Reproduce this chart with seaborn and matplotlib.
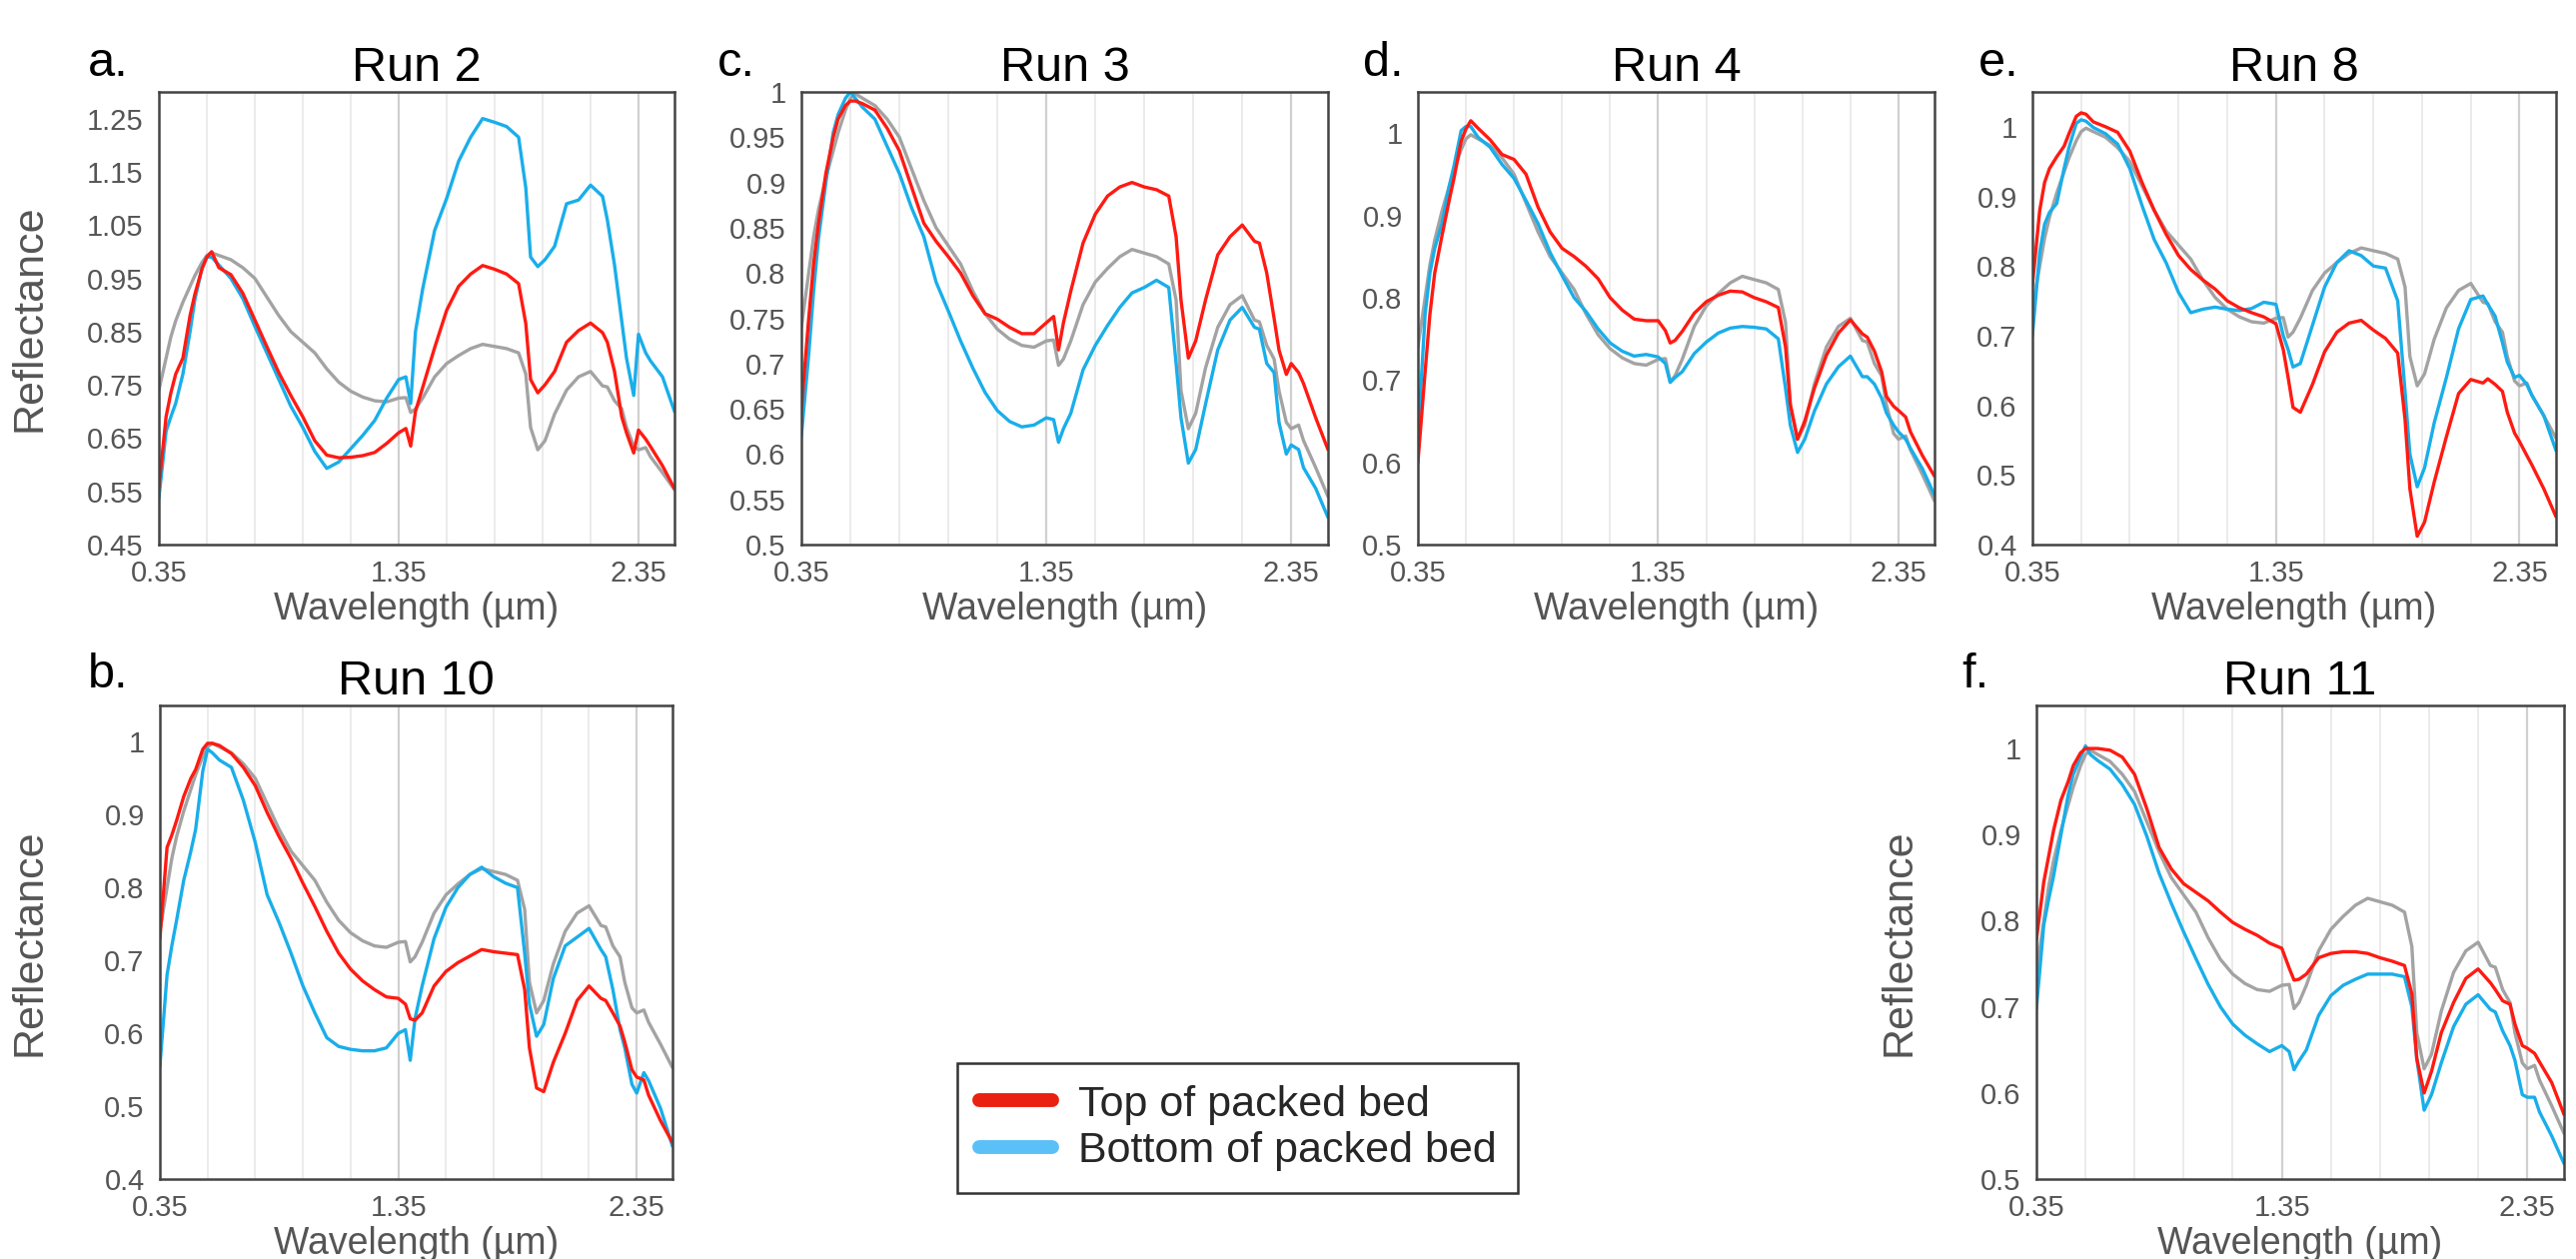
import numpy as np
import pandas as pd
import seaborn as sns
import matplotlib.pyplot as plt
from matplotlib.lines import Line2D

sns.set_theme(style="white")
plt.rcParams['font.family'] = ['Liberation Sans', 'DejaVu Sans']

# ---------------- data ----------------
wavelength = [0.35, 0.38, 0.40, 0.42, 0.45, 0.48, 0.50, 0.53, 0.55, 0.57, 0.60, 0.65, 0.70, 0.75,
              0.80, 0.85, 0.90, 0.95, 1.00, 1.05, 1.10, 1.15, 1.20, 1.25, 1.30, 1.35, 1.38, 1.40,
              1.42, 1.45, 1.50, 1.55, 1.60, 1.65, 1.70, 1.75, 1.80, 1.85, 1.88, 1.90, 1.93, 1.96,
              2.00, 2.05, 2.10, 2.15, 2.20, 2.22, 2.25, 2.28, 2.30, 2.33, 2.35, 2.38, 2.40, 2.45, 2.50]

reference_gray = [0.74, 0.80, 0.84, 0.87, 0.905, 0.935, 0.955, 0.98, 0.993, 0.998, 0.993, 0.985, 0.97, 0.95,
                  0.915, 0.88, 0.85, 0.83, 0.81, 0.78, 0.755, 0.738, 0.727, 0.72, 0.718, 0.725, 0.726, 0.698,
                  0.705, 0.725, 0.765, 0.79, 0.805, 0.818, 0.826, 0.822, 0.818, 0.81, 0.77, 0.67, 0.628, 0.645,
                  0.695, 0.74, 0.765, 0.775, 0.748, 0.746, 0.72, 0.705, 0.67, 0.635, 0.628, 0.632, 0.615, 0.585, 0.553]

run2_top = [0.558, 0.69, 0.735, 0.77, 0.80, 0.88, 0.92, 0.968, 0.99, 1.0, 0.97, 0.957, 0.922, 0.872,
            0.822, 0.773, 0.73, 0.69, 0.645, 0.618, 0.613, 0.614, 0.617, 0.623, 0.64, 0.66, 0.668, 0.635,
            0.70, 0.745, 0.82, 0.89, 0.935, 0.958, 0.974, 0.967, 0.958, 0.94, 0.865, 0.76, 0.735, 0.75,
            0.775, 0.83, 0.852, 0.866, 0.848, 0.83, 0.775, 0.69, 0.66, 0.622, 0.665, 0.648, 0.634, 0.598, 0.555]
run2_bottom = [0.537, 0.663, 0.69, 0.715, 0.77, 0.85, 0.91, 0.97, 0.99, 0.99, 0.975, 0.95, 0.912, 0.86,
               0.81, 0.76, 0.71, 0.67, 0.625, 0.593, 0.605, 0.63, 0.655, 0.683, 0.725, 0.76, 0.765, 0.715,
               0.85, 0.93, 1.04, 1.10, 1.17, 1.215, 1.25, 1.243, 1.235, 1.215, 1.12, 0.99, 0.972, 0.985,
               1.01, 1.09, 1.097, 1.125, 1.104, 1.06, 0.975, 0.87, 0.80, 0.73, 0.845, 0.81, 0.795, 0.765, 0.70]

run10_top = [0.73, 0.855, 0.872, 0.892, 0.925, 0.95, 0.962, 0.99, 0.998, 0.998, 0.995, 0.984, 0.965, 0.94,
             0.903, 0.87, 0.84, 0.806, 0.774, 0.74, 0.71, 0.688, 0.672, 0.66, 0.65, 0.648, 0.64, 0.62,
             0.618, 0.628, 0.665, 0.685, 0.697, 0.706, 0.715, 0.712, 0.71, 0.708, 0.66, 0.58, 0.525, 0.52,
             0.56, 0.60, 0.645, 0.665, 0.648, 0.645, 0.628, 0.61, 0.588, 0.55, 0.54, 0.536, 0.515, 0.48, 0.45]
run10_bottom = [0.555, 0.68, 0.72, 0.755, 0.81, 0.85, 0.88, 0.96, 0.99, 0.985, 0.975, 0.965, 0.92, 0.862,
                0.79, 0.752, 0.71, 0.665, 0.628, 0.594, 0.582, 0.578, 0.576, 0.576, 0.58, 0.60, 0.605, 0.563,
                0.62, 0.665, 0.73, 0.773, 0.80, 0.818, 0.828, 0.815, 0.806, 0.80, 0.71, 0.64, 0.596, 0.612,
                0.675, 0.72, 0.732, 0.744, 0.715, 0.705, 0.66, 0.605, 0.58, 0.53, 0.518, 0.546, 0.535, 0.497, 0.445]

run3_top = [0.65, 0.75, 0.81, 0.855, 0.91, 0.95, 0.97, 0.985, 0.99, 0.99, 0.987, 0.98, 0.96, 0.935,
            0.895, 0.855, 0.835, 0.818, 0.80, 0.775, 0.755, 0.749, 0.74, 0.733, 0.733, 0.745, 0.752, 0.715,
            0.745, 0.78, 0.833, 0.865, 0.885, 0.895, 0.90, 0.895, 0.892, 0.885, 0.84, 0.77, 0.706, 0.725,
            0.77, 0.82, 0.84, 0.853, 0.835, 0.833, 0.80, 0.75, 0.715, 0.688, 0.70, 0.69, 0.678, 0.64, 0.605]
run3_bottom = [0.62, 0.71, 0.78, 0.838, 0.90, 0.955, 0.975, 0.993, 1.0, 0.993, 0.983, 0.97, 0.94, 0.91,
               0.872, 0.84, 0.79, 0.758, 0.725, 0.695, 0.668, 0.648, 0.636, 0.63, 0.632, 0.64, 0.638, 0.613,
               0.628, 0.645, 0.693, 0.72, 0.742, 0.762, 0.778, 0.784, 0.792, 0.784, 0.70, 0.64, 0.59, 0.605,
               0.655, 0.715, 0.748, 0.762, 0.74, 0.738, 0.70, 0.69, 0.635, 0.60, 0.61, 0.605, 0.585, 0.562, 0.53]

run4_top = [0.60, 0.71, 0.78, 0.83, 0.875, 0.918, 0.945, 0.99, 1.005, 1.015, 1.006, 0.992, 0.974, 0.968,
            0.95, 0.91, 0.88, 0.86, 0.85, 0.838, 0.823, 0.80, 0.785, 0.774, 0.772, 0.772, 0.76, 0.745,
            0.748, 0.759, 0.781, 0.795, 0.803, 0.808, 0.807, 0.80, 0.795, 0.788, 0.74, 0.67, 0.628, 0.65,
            0.69, 0.73, 0.757, 0.773, 0.756, 0.752, 0.735, 0.71, 0.68, 0.668, 0.663, 0.655, 0.637, 0.608, 0.583]
run4_bottom = [0.63, 0.78, 0.83, 0.86, 0.89, 0.935, 0.96, 1.003, 1.008, 1.008, 0.995, 0.983, 0.962, 0.945,
               0.918, 0.89, 0.855, 0.827, 0.80, 0.783, 0.762, 0.745, 0.735, 0.729, 0.731, 0.728, 0.72, 0.697,
               0.703, 0.71, 0.732, 0.746, 0.757, 0.763, 0.765, 0.764, 0.762, 0.75, 0.69, 0.645, 0.612, 0.628,
               0.662, 0.695, 0.716, 0.729, 0.704, 0.704, 0.695, 0.678, 0.66, 0.645, 0.637, 0.628, 0.617, 0.592, 0.56]

run8_top = [0.773, 0.88, 0.92, 0.94, 0.957, 0.972, 0.99, 1.015, 1.02, 1.018, 1.007, 1.0, 0.992, 0.965,
            0.92, 0.88, 0.845, 0.815, 0.795, 0.78, 0.767, 0.75, 0.74, 0.733, 0.727, 0.717, 0.68, 0.64,
            0.597, 0.59, 0.63, 0.677, 0.705, 0.718, 0.722, 0.708, 0.696, 0.675, 0.58, 0.48, 0.412, 0.432,
            0.49, 0.555, 0.617, 0.637, 0.632, 0.638, 0.63, 0.62, 0.59, 0.56, 0.548, 0.528, 0.515, 0.48, 0.44]
run8_bottom = [0.70, 0.82, 0.86, 0.877, 0.89, 0.94, 0.97, 1.005, 1.01, 1.008, 0.999, 0.99, 0.975, 0.94,
               0.887, 0.838, 0.804, 0.762, 0.733, 0.738, 0.741, 0.738, 0.736, 0.739, 0.748, 0.745, 0.70, 0.68,
               0.655, 0.66, 0.715, 0.77, 0.805, 0.822, 0.815, 0.80, 0.797, 0.75, 0.62, 0.53, 0.483, 0.51,
               0.575, 0.64, 0.71, 0.752, 0.757, 0.745, 0.728, 0.69, 0.662, 0.64, 0.643, 0.63, 0.615, 0.585, 0.535]

run11_top = [0.778, 0.845, 0.875, 0.905, 0.94, 0.962, 0.98, 0.995, 1.0, 1.0, 1.0, 0.998, 0.99, 0.97,
             0.93, 0.885, 0.86, 0.843, 0.833, 0.823, 0.81, 0.798, 0.79, 0.783, 0.774, 0.768, 0.745, 0.731,
             0.732, 0.738, 0.757, 0.762, 0.764, 0.764, 0.762, 0.757, 0.753, 0.748, 0.715, 0.64, 0.60, 0.625,
             0.67, 0.705, 0.733, 0.744, 0.728, 0.72, 0.707, 0.703, 0.68, 0.655, 0.652, 0.646, 0.636, 0.612, 0.575]
run11_bottom = [0.698, 0.795, 0.825, 0.852, 0.90, 0.947, 0.97, 0.99, 1.003, 0.993, 0.986, 0.976, 0.958, 0.935,
                0.898, 0.855, 0.82, 0.787, 0.756, 0.726, 0.70, 0.68, 0.667, 0.657, 0.648, 0.655, 0.648, 0.627,
                0.637, 0.65, 0.69, 0.713, 0.725, 0.732, 0.738, 0.738, 0.738, 0.735, 0.70, 0.64, 0.58, 0.598,
                0.635, 0.677, 0.703, 0.714, 0.697, 0.694, 0.672, 0.655, 0.638, 0.598, 0.595, 0.595, 0.578, 0.55, 0.518]

panel_letters = ["a.", "c.", "d.", "e.", "b.", "f."]
panel_titles = ["Run 2", "Run 3", "Run 4", "Run 8", "Run 10", "Run 11"]
panel_top = [run2_top, run3_top, run4_top, run8_top, run10_top, run11_top]
panel_bottom = [run2_bottom, run3_bottom, run4_bottom, run8_bottom, run10_bottom, run11_bottom]
panel_ylims = [(0.45, 1.30), (0.5, 1.0), (0.5, 1.05), (0.4, 1.05), (0.4, 1.05), (0.5, 1.05)]
panel_yticks = [[0.45, 0.55, 0.65, 0.75, 0.85, 0.95, 1.05, 1.15, 1.25],
                [0.5, 0.55, 0.6, 0.65, 0.7, 0.75, 0.8, 0.85, 0.9, 0.95, 1.0],
                [0.5, 0.6, 0.7, 0.8, 0.9, 1.0],
                [0.4, 0.5, 0.6, 0.7, 0.8, 0.9, 1.0],
                [0.4, 0.5, 0.6, 0.7, 0.8, 0.9, 1.0],
                [0.5, 0.6, 0.7, 0.8, 0.9, 1.0]]
panel_has_ylabel = [True, False, False, False, True, True]
x_major_ticks = [0.35, 1.35, 2.35]
x_minor_ticks = [0.55, 0.75, 0.95, 1.15, 1.55, 1.75, 1.95, 2.15]
legend_labels = ["Top of packed bed", "Bottom of packed bed"]

# ---------------- layout (pixels in a 2578 x 1260 canvas) ----------------
W, H = 2578, 1260
panel_rects = [(159, 92, 675, 545), (802, 92, 1329, 545), (1419, 92, 1936, 545),
               (2034, 92, 2558, 545), (160, 706, 673, 1180), (2038, 706, 2566, 1180)]
letter_pos = [(129, 63), (756, 63), (1405, 63), (2021, 63), (129, 675), (1991, 675)]
ylabel_x = [-0.213, 0, 0, 0, -0.216, -0.222]

RED = "#ff1a12"
BLUE = "#19aeea"
GRAY = "#a3a3a3"
TICK_GRAY = "#555555"

fig = plt.figure(figsize=(W / 100, H / 100), dpi=100)
fig.patch.set_facecolor("white")

for i in range(6):
    l, t, r, b = panel_rects[i]
    ax = fig.add_axes([l / W, 1 - b / H, (r - l) / W, (b - t) / H])
    df = pd.DataFrame({
        "Wavelength": wavelength * 3,
        "Reflectance": reference_gray + panel_bottom[i] + panel_top[i],
        "Series": ["Reference"] * len(wavelength) + ["Bottom"] * len(wavelength) + ["Top"] * len(wavelength),
    })
    sns.lineplot(data=df, x="Wavelength", y="Reflectance", hue="Series",
                 hue_order=["Reference", "Bottom", "Top"],
                 palette={"Reference": GRAY, "Bottom": BLUE, "Top": RED},
                 estimator=None, sort=False, linewidth=2.4, legend=False, ax=ax)
    ax.set_xlim(0.35, 2.5)
    ax.set_ylim(*panel_ylims[i])
    ax.set_xticks(x_major_ticks)
    ax.set_xticklabels([f"{v:g}" for v in x_major_ticks])
    ax.set_xticks(x_minor_ticks, minor=True)
    ax.set_yticks(panel_yticks[i])
    ax.set_yticklabels([f"{v:g}" for v in panel_yticks[i]])
    ax.grid(False)
    ax.grid(True, which="major", axis="x", color="#d0d0d0", linewidth=1.6)
    ax.grid(True, which="minor", axis="x", color="#ebebeb", linewidth=1.4)
    ax.set_axisbelow(True)
    ax.tick_params(axis="both", which="both", direction="out", length=6, width=1.6,
                   color="#444444", labelsize=21, labelcolor=TICK_GRAY, pad=5)
    for s in ax.spines.values():
        s.set_color("#444444")
        s.set_linewidth(1.8)
    ax.set_xlabel("Wavelength (µm)", fontsize=27, color=TICK_GRAY, labelpad=3)
    if panel_has_ylabel[i]:
        ax.set_ylabel("Reflectance", fontsize=31, color=TICK_GRAY)
        ax.yaxis.set_label_coords(ylabel_x[i], 0.5)
    else:
        ax.set_ylabel("")
    ax.set_title(panel_titles[i], fontsize=35, color="black", pad=8)
    lx, ly = letter_pos[i]
    fig.text(lx / W, 1 - ly / H, panel_letters[i], fontsize=35, color="black",
             ha="right", va="center")

handles = [Line2D([], [], color="#ea2010", linewidth=10),
           Line2D([], [], color="#5cc0f8", linewidth=10)]
leg = fig.legend(handles, legend_labels, loc="upper left",
                 bbox_to_anchor=(958 / W, 1 - 1064 / H), fontsize=31, frameon=True,
                 fancybox=False, edgecolor="black", handlelength=1.7, handletextpad=0.6,
                 borderpad=0.5, labelspacing=0.15, borderaxespad=0)
leg.get_frame().set_linewidth(1.8)

fig.savefig("out.png", dpi=100, facecolor="white")
